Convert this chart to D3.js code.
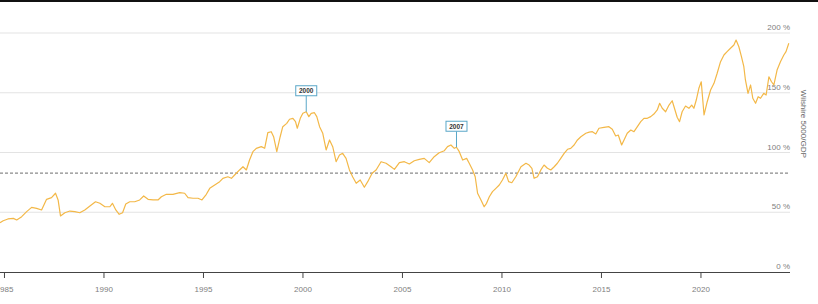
<!DOCTYPE html>
<html>
<head>
<meta charset="utf-8">
<script src="https://cdn.jsdelivr.net/npm/d3@7"></script>
<style>
  body { margin: 0; background: #fff; }
  svg { display: block; font-family: "Liberation Sans", Arial, sans-serif; }
</style>
</head>
<body>
<div id="chart"></div>
<script>
// Wilshire 5000 / GDP ratio
const years = [
  1984.80, 1984.96, 1985.20, 1985.47, 1985.64, 1985.89, 1986.14, 1986.39, 1986.64, 1986.89,
  1987.14, 1987.39, 1987.59, 1987.72, 1987.84, 1988.06, 1988.31, 1988.56, 1988.81, 1989.06,
  1989.32, 1989.60, 1989.82, 1990.07, 1990.32, 1990.45, 1990.62, 1990.79, 1990.96, 1991.12,
  1991.32, 1991.57, 1991.82, 1992.02, 1992.24, 1992.49, 1992.74, 1992.91, 1993.16, 1993.49,
  1993.83, 1994.08, 1994.25, 1994.50, 1994.75, 1994.95, 1995.17, 1995.34, 1995.59, 1995.84,
  1996.00, 1996.25, 1996.43, 1996.59, 1996.84, 1997.01, 1997.18, 1997.34, 1997.51, 1997.68,
  1997.93, 1998.10, 1998.26, 1998.43, 1998.55, 1998.71, 1998.88, 1999.01, 1999.21, 1999.35,
  1999.52, 1999.65, 1999.74, 1999.89, 2000.02, 2000.19, 2000.32, 2000.44, 2000.60, 2000.72,
  2000.86, 2001.02, 2001.19, 2001.36, 2001.52, 2001.69, 2001.86, 2002.02, 2002.19, 2002.36,
  2002.52, 2002.70, 2002.90, 2003.11, 2003.28, 2003.50, 2003.70, 2003.95, 2004.20, 2004.45,
  2004.62, 2004.87, 2005.12, 2005.37, 2005.62, 2005.87, 2006.12, 2006.37, 2006.62, 2006.87,
  2007.13, 2007.29, 2007.46, 2007.63, 2007.74, 2007.88, 2008.05, 2008.25, 2008.38, 2008.55,
  2008.68, 2008.80, 2008.97, 2009.13, 2009.25, 2009.39, 2009.55, 2009.72, 2009.89, 2010.05,
  2010.22, 2010.36, 2010.52, 2010.72, 2010.98, 2011.23, 2011.39, 2011.53, 2011.64, 2011.81,
  2011.98, 2012.14, 2012.31, 2012.48, 2012.65, 2012.81, 2012.98, 2013.15, 2013.32, 2013.48,
  2013.65, 2013.82, 2013.99, 2014.24, 2014.41, 2014.57, 2014.74, 2014.90, 2015.15, 2015.40,
  2015.57, 2015.74, 2015.87, 2016.04, 2016.16, 2016.32, 2016.50, 2016.66, 2016.83, 2017.00,
  2017.16, 2017.33, 2017.50, 2017.66, 2017.83, 2017.95, 2018.08, 2018.25, 2018.42, 2018.58,
  2018.72, 2018.83, 2018.95, 2019.08, 2019.25, 2019.42, 2019.56, 2019.67, 2019.79, 2019.92,
  2020.04, 2020.18, 2020.34, 2020.51, 2020.68, 2020.84, 2021.01, 2021.18, 2021.34, 2021.51,
  2021.68, 2021.79, 2021.93, 2022.06, 2022.18, 2022.26, 2022.39, 2022.52, 2022.63, 2022.77,
  2022.90, 2023.02, 2023.18, 2023.30, 2023.44, 2023.57, 2023.69, 2023.85, 2024.02, 2024.19,
  2024.30, 2024.44
];
const ratio = [
  41.3, 42.9, 44.4, 44.9, 43.5, 46.3, 50.5, 54.1, 53.3, 51.9,
  60.8, 62.2, 65.9, 60.3, 46.9, 49.6, 51.0, 50.5, 49.6, 51.9,
  55.2, 58.8, 57.5, 54.6, 54.6, 57.5, 51.9, 48.3, 49.6, 56.9,
  58.8, 58.8, 60.3, 63.6, 60.8, 60.3, 60.3, 63.0, 65.0, 65.0,
  66.4, 65.9, 62.2, 61.7, 61.7, 60.3, 65.0, 70.0, 72.8, 75.6,
  78.4, 79.7, 78.4, 81.2, 85.4, 88.1, 85.4, 93.7, 100.7, 103.5,
  104.9, 103.5, 116.6, 117.4, 113.2, 100.7, 113.2, 121.6, 124.4, 127.8,
  128.6, 125.8, 120.3, 128.6, 132.8, 134.1, 130.0, 132.8, 133.3, 130.0,
  121.6, 116.1, 102.1, 110.5, 104.9, 92.3, 97.9, 99.3, 95.1, 85.4,
  79.7, 74.2, 77.0, 70.9, 75.6, 82.6, 85.4, 92.3, 91.0, 88.1,
  85.9, 91.5, 92.3, 90.4, 93.1, 94.3, 95.1, 91.5, 96.5, 99.8,
  101.5, 104.9, 106.3, 103.5, 104.4, 100.7, 93.7, 95.1, 91.0, 85.4,
  79.7, 65.9, 60.3, 54.6, 57.5, 63.0, 67.2, 70.0, 72.8, 77.0,
  82.6, 75.6, 74.7, 79.7, 88.1, 91.0, 89.5, 86.8, 78.4, 79.7,
  85.4, 89.5, 86.8, 85.4, 88.1, 91.0, 95.1, 99.3, 102.7, 103.5,
  106.3, 110.5, 113.2, 116.1, 117.0, 117.4, 115.5, 120.3, 121.1, 121.6,
  119.4, 113.8, 114.6, 106.3, 110.5, 116.1, 118.8, 117.4, 121.6, 125.8,
  128.6, 128.6, 130.0, 132.2, 135.6, 141.2, 137.0, 134.1, 139.7, 143.3,
  135.6, 129.5, 125.8, 134.1, 138.9, 137.0, 139.7, 137.0, 143.9, 153.7,
  159.2, 131.4, 142.5, 152.3, 157.9, 166.3, 176.0, 181.6, 184.4, 187.2,
  190.0, 194.1, 188.5, 180.2, 171.8, 160.7, 149.5, 156.5, 145.4, 141.2,
  146.7, 145.4, 149.5, 148.1, 163.4, 159.2, 156.5, 169.0, 176.0, 181.6,
  184.4, 191.4
];
const averageRatio = 82.8;
const yTicks = [0, 50, 100, 150, 200];
const xTicks = [1985, 1990, 1995, 2000, 2005, 2010, 2015, 2020];
const noteYears = [2000.19, 2007.74];
const noteLabels = ["2000", "2007"];
const axisTitle = "Wilshire 5000/GDP";

const width = 818;
const height = 304;

const data = years.map((y, i) => ({year: y, value: ratio[i]}));

const x = d3.scaleLinear().domain([1984.8, 2024.5]).range([0, 790]);
const y = d3.scaleLinear().domain([0, 200]).range([272, 33]);

const svg = d3.select('#chart')
  .append('svg')
  .attr('width', width)
  .attr('height', height);

// dark strip along the top
svg.append('rect')
  .attr('x', 0).attr('y', 0)
  .attr('width', width).attr('height', 2)
  .attr('fill', '#111');

// horizontal grid with labels on the right
const grid = svg.append('g');
grid.selectAll('line')
  .data(yTicks.filter(d => d > 0))
  .enter().append('line')
    .attr('x1', 0).attr('x2', 790)
    .attr('y1', d => y(d)).attr('y2', d => y(d))
    .attr('stroke', '#e3e3e3')
    .attr('stroke-width', 1);

grid.selectAll('text')
  .data(yTicks)
  .enter().append('text')
    .attr('x', 790)
    .attr('y', d => y(d) - 3)
    .attr('text-anchor', 'end')
    .attr('font-size', 8)
    .attr('fill', '#808080')
    .text(d => d + ' %');

// rotated axis title
svg.append('text')
  .attr('transform', `translate(801,${y(124)}) rotate(90)`)
  .attr('text-anchor', 'middle')
  .attr('font-size', 8)
  .attr('fill', '#666')
  .text(axisTitle);

// average line
svg.append('line')
  .attr('x1', 0).attr('x2', 790)
  .attr('y1', y(averageRatio)).attr('y2', y(averageRatio))
  .attr('stroke', '#8a8a8a')
  .attr('stroke-width', 1.2)
  .attr('stroke-dasharray', '3,2');

// x axis
const xAxis = d3.axisBottom(x)
  .tickValues(xTicks)
  .tickFormat(d3.format('d'))
  .tickSize(6)
  .tickPadding(8);

const gx = svg.append('g')
  .attr('transform', `translate(0,${y(0)})`)
  .call(xAxis);
gx.select('.domain').attr('stroke', '#444').attr('d', 'M0,0.5H790');
gx.selectAll('.tick line').attr('stroke', '#444');
gx.selectAll('.tick text')
  .attr('font-size', 8)
  .attr('font-family', '"Liberation Sans", Arial, sans-serif')
  .attr('fill', '#808080');

// the ratio line
const line = d3.line()
  .x(d => x(d.year))
  .y(d => y(d.value));

svg.append('path')
  .datum(data)
  .attr('fill', 'none')
  .attr('stroke', '#f3b848')
  .attr('stroke-width', 1.2)
  .attr('stroke-linejoin', 'round')
  .attr('d', line);

// callouts
const bisect = d3.bisector(d => d.year).left;
noteYears.forEach((yr, i) => {
  const d = data[Math.min(bisect(data, yr), data.length - 1)];
  const px = x(d.year);
  const py = y(d.value);
  const g = svg.append('g');
  g.append('line')
    .attr('x1', px).attr('x2', px)
    .attr('y1', py).attr('y2', py - 16)
    .attr('stroke', '#5aa7c8')
    .attr('stroke-width', 1);
  g.append('rect')
    .attr('x', px - 10.5).attr('y', py - 26)
    .attr('width', 21).attr('height', 10)
    .attr('fill', '#fff')
    .attr('stroke', '#5aa7c8')
    .attr('stroke-width', 1);
  g.append('text')
    .attr('x', px).attr('y', py - 18.6)
    .attr('text-anchor', 'middle')
    .attr('font-size', 6.5)
    .attr('font-weight', 'bold')
    .attr('fill', '#333')
    .text(noteLabels[i]);
});
</script>
</body>
</html>
